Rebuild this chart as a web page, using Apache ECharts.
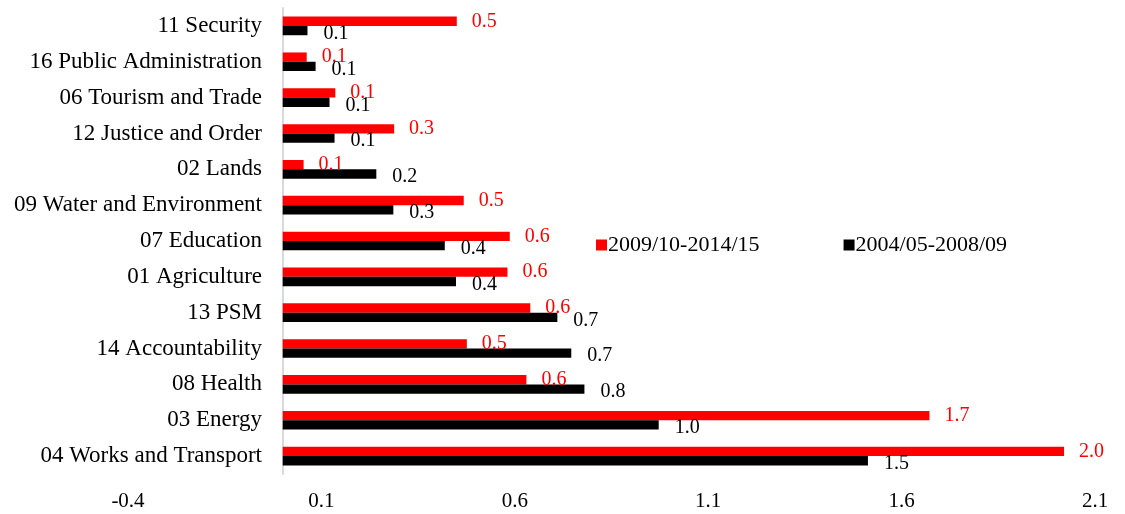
<!DOCTYPE html>
<html>
<head>
<meta charset="utf-8">
<script src="https://cdn.jsdelivr.net/npm/echarts@6/dist/echarts.min.js"></script>
<style>html,body{margin:0;padding:0;background:#fff;}#c{width:1125px;height:514px;}</style>
</head>
<body>
<div id="c"></div>
<script>
const categories = ["11 Security","16 Public Administration","06 Tourism and Trade","12 Justice and Order","02 Lands","09 Water and Environment","07 Education","01 Agriculture","13 PSM","14 Accountability","08 Health","03 Energy","04 Works and Transport"];
const seriesNames = ["2009/10-2014/15","2004/05-2008/09"];
const recent = [0.45,0.062,0.136,0.288,0.054,0.468,0.587,0.581,0.64,0.476,0.63,1.672,2.02];
const earlier = [0.064,0.085,0.121,0.134,0.242,0.286,0.419,0.448,0.71,0.746,0.78,0.972,1.513];
const tickValues = [-0.4,0.1,0.6,1.1,1.6,2.1];

const FONT = '"Liberation Serif","Times New Roman",serif';
const chart = echarts.init(document.getElementById('c'));
chart.setOption({
  animation:false,
  textStyle:{fontFamily:FONT},
  grid:{left:128,right:30,top:8,bottom:40,containLabel:false,outerBoundsMode:'none'},
  legend:{
    left:591, top:229, itemWidth:11, itemHeight:11, itemGap:84,
    icon:'rect',
    textStyle:{fontFamily:FONT,fontSize:22,color:'#000',padding:[0,0,0,-4]},
    data:seriesNames
  },
  xAxis:{
    type:'value', min:-0.4, max:2.1,
    axisLine:{show:false}, axisTick:{show:false}, splitLine:{show:false},
    axisLabel:{customValues:tickValues, fontFamily:FONT, fontSize:21, color:'#000', margin:17,
      formatter:v=>v.toFixed(1)}
  },
  yAxis:{
    type:'category', data:categories, inverse:true, offset:-155,
    axisLine:{show:true,onZero:false,lineStyle:{color:'#d9d9d9',width:2}},
    axisTick:{show:false},
    axisLabel:{fontFamily:FONT,fontSize:23,color:'#000',margin:21,padding:[4,0,0,0]}
  },
  series:[
    {name:seriesNames[0], type:'bar', data:recent, barGap:'0%', barCategoryGap:'48%',
     itemStyle:{color:'#ff0000'},
     label:{show:true,position:'right',distance:15,fontFamily:FONT,fontSize:20,color:'#ff0000',
       formatter:p=>p.value.toFixed(1)}},
    {name:seriesNames[1], type:'bar', data:earlier, barGap:'0%', barCategoryGap:'48%',
     itemStyle:{color:'#000000'},
     label:{show:true,position:'right',distance:16,offset:[0,3],fontFamily:FONT,fontSize:20,color:'#000',
       formatter:p=>p.value.toFixed(1)}}
  ]
});
</script>
</body>
</html>
